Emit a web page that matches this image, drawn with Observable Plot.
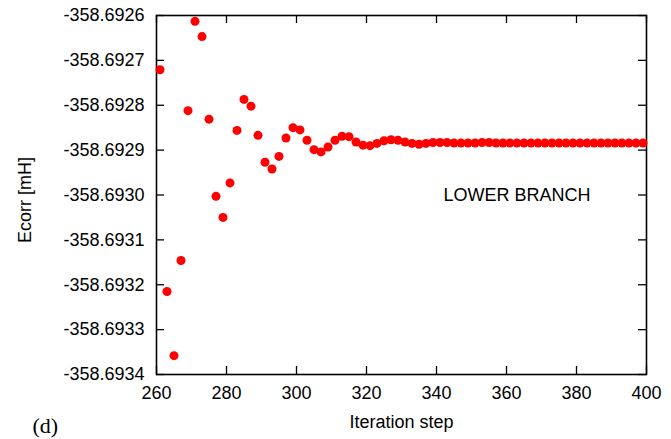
<!DOCTYPE html>
<html>
<head>
<meta charset="utf-8">
<script src="https://cdn.jsdelivr.net/npm/d3@7"></script>
<script src="https://cdn.jsdelivr.net/npm/@observablehq/plot@0.6"></script>
<style>
  html, body { margin: 0; padding: 0; background: white; }
</style>
</head>
<body>
<div id="chart"></div>
<script>
const steps = [261, 263, 265, 267, 269, 271, 273, 275, 277, 279,
  281, 283, 285, 287, 289, 291, 293, 295, 297, 299,
  301, 303, 305, 307, 309, 311, 313, 315, 317, 319,
  321, 323, 325, 327, 329, 331, 333, 335, 337, 339,
  341, 343, 345, 347, 349, 351, 353, 355, 357, 359,
  361, 363, 365, 367, 369, 371, 373, 375, 377, 379,
  381, 383, 385, 387, 389, 391, 393, 395, 397, 399];

const ecorr = [-358.692721, -358.693215, -358.693358, -358.693146, -358.692812,
  -358.692613, -358.692647, -358.692831, -358.693003, -358.693050,
  -358.692973, -358.692856, -358.692787, -358.692802, -358.692867,
  -358.692927, -358.692942, -358.692914, -358.692873, -358.692850,
  -358.692855, -358.692878, -358.692899, -358.692904, -358.692893,
  -358.692878, -358.692869, -358.692870, -358.692882, -358.692889,
  -358.692890, -358.692885, -358.692879, -358.692877, -358.692878,
  -358.692882, -358.692885, -358.692887, -358.692885, -358.692883,
  -358.692883, -358.692883, -358.692884, -358.692884, -358.692884,
  -358.692884, -358.692883, -358.692883, -358.692884, -358.692884,
  -358.692884, -358.692884, -358.692884, -358.692884, -358.692884,
  -358.692884, -358.692884, -358.692884, -358.692884, -358.692884,
  -358.692884, -358.692884, -358.692884, -358.692884, -358.692884,
  -358.692884, -358.692884, -358.692884, -358.692884, -358.692884];

const xTicks = [260, 280, 300, 320, 340, 360, 380, 400];
const yTicks = [-358.6934, -358.6933, -358.6932, -358.6931, -358.6930,
  -358.6929, -358.6928, -358.6927, -358.6926];

const xLabel = "Iteration step";
const yLabel = "Ecorr [mH]";
const annotation = "LOWER BRANCH";
const panelTag = "(d)";

const data = steps.map((s, i) => ({step: s, ecorr: ecorr[i]}));

const W = 671, H = 439;
const mL = 156, mR = 25, mT = 15, mB = 65;
const pw = W - mL - mR, ph = H - mT - mB;
const tickLen = 8;

const plot = Plot.plot({
  width: W, height: H,
  marginLeft: mL, marginRight: mR, marginTop: mT, marginBottom: mB,
  style: {fontFamily: "'Liberation Sans', Arial, Helvetica, sans-serif", fontSize: "18px", color: "black", background: "white"},
  x: {domain: [260, 400]},
  y: {domain: [-358.6934, -358.6926]},
  marks: [
    Plot.axisX(xTicks, {tickSize: 0, tickPadding: 12, tickFormat: d => String(d), label: null, fontSize: 18}),
    Plot.axisY(yTicks, {tickSize: 0, tickPadding: 12, tickFormat: d => d.toFixed(4), label: null, fontSize: 18}),
    Plot.tickX(xTicks, {x: d => d, insetTop: ph - tickLen, stroke: "black", strokeWidth: 1.3}),
    Plot.tickX(xTicks, {x: d => d, insetBottom: ph - tickLen, stroke: "black", strokeWidth: 1.3}),
    Plot.tickY(yTicks, {y: d => d, insetRight: pw - tickLen, stroke: "black", strokeWidth: 1.3}),
    Plot.tickY(yTicks, {y: d => d, insetLeft: pw - tickLen, stroke: "black", strokeWidth: 1.3}),
    Plot.frame({stroke: "black", strokeWidth: 1.6}),
    Plot.text([annotation], {x: 342, y: -358.6930, text: d => d, textAnchor: "start", fontSize: 18}),
    Plot.text([yLabel], {frameAnchor: "left", dx: -131, dy: 5, rotate: -90, text: d => d,
      textAnchor: "middle", lineAnchor: "middle", fontSize: 18}),
    Plot.text([xLabel], {frameAnchor: "bottom", dy: 48, text: d => d, lineAnchor: "middle", fontSize: 18}),
    Plot.text([panelTag], {frameAnchor: "bottom-left", dx: 32 - mL, dy: 51, text: d => d,
      textAnchor: "start", lineAnchor: "middle",
      fontFamily: "'Liberation Serif', 'DejaVu Serif', serif", fontSize: 22}),
    Plot.dot(data, {x: "step", y: "ecorr", r: 4.5, fill: "#ff0000", stroke: null})
  ]
});

document.getElementById("chart").appendChild(plot);
</script>
</body>
</html>
